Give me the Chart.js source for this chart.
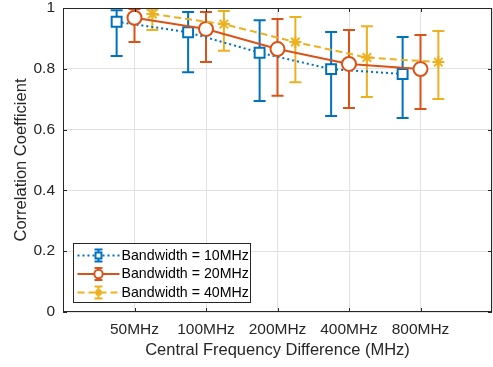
<!DOCTYPE html>
<html lang="en">
<head>
    <meta charset="UTF-8">
    <title>Correlation Coefficient vs Central Frequency Difference</title>
    <script src="https://cdn.jsdelivr.net/npm/chart.js"></script>
    <style>
        body { margin: 0; background: #fff; }
        #wrap { width: 493px; height: 367px; }
    </style>
</head>
<body>
<div id="wrap"><canvas id="corrChart" width="493" height="367"></canvas></div>
<script>
    // x categories (frequency difference)
    const categories = ['50MHz', '100MHz', '200MHz', '400MHz', '800MHz'];
    const yTicks = [0, 0.2, 0.4, 0.6, 0.8, 1];

    // Bandwidth = 10MHz
    const bw10 = [0.955, 0.920, 0.853, 0.799, 0.783];
    const bw10Lower = [0.842, 0.789, 0.694, 0.645, 0.638];
    const bw10Upper = [0.993, 0.987, 0.960, 0.921, 0.905];

    // Bandwidth = 20MHz
    const bw20 = [0.968, 0.931, 0.865, 0.816, 0.799];
    const bw20Lower = [0.888, 0.822, 0.711, 0.671, 0.668];
    const bw20Upper = [0.997, 0.987, 0.964, 0.928, 0.911];

    // Bandwidth = 40MHz
    const bw40 = [0.980, 0.947, 0.888, 0.837, 0.822];
    const bw40Lower = [0.928, 0.859, 0.756, 0.707, 0.701];
    const bw40Upper = [0.995, 0.990, 0.970, 0.940, 0.924];

    const FONT = '"Liberation Sans", Arial, sans-serif';
    const AXIS_COLOR = '#262626';

    function points(values, shift) {
        return values.map((v, i) => ({ x: i + 1 + shift, y: v }));
    }

    // no extra room for edge labels, the layout padding handles it
    function noEdgePadding(scale) {
        scale.paddingTop = 0;
        scale.paddingBottom = 0;
        scale.paddingLeft = 0;
        scale.paddingRight = 0;
    }

    // error bars, drawn under the lines and markers
    const errorBars = {
        id: 'errorBars',
        beforeDatasetsDraw(chart) {
            const { ctx, chartArea: a, scales: { x, y } } = chart;
            ctx.save();
            ctx.beginPath();
            ctx.rect(a.left, a.top, a.width, a.height);
            ctx.clip();
            chart.data.datasets.forEach(ds => {
                ctx.strokeStyle = ds.borderColor;
                ctx.lineWidth = 2;
                ctx.setLineDash([]);
                ds.data.forEach((p, i) => {
                    const px = x.getPixelForValue(p.x);
                    const lo = y.getPixelForValue(ds.lower[i]);
                    const hi = y.getPixelForValue(ds.upper[i]);
                    ctx.beginPath();
                    ctx.moveTo(px, lo); ctx.lineTo(px, hi);
                    ctx.moveTo(px - 6, lo); ctx.lineTo(px + 6, lo);
                    ctx.moveTo(px - 6, hi); ctx.lineTo(px + 6, hi);
                    ctx.stroke();
                });
            });
            ctx.restore();
        }
    };

    // box around the axes with inward tick marks (matlab look)
    const axesBox = {
        id: 'axesBox',
        afterDatasetsDraw(chart) {
            const { ctx, chartArea: a, scales: { x, y } } = chart;
            ctx.save();
            ctx.strokeStyle = AXIS_COLOR;
            ctx.lineWidth = 1;
            ctx.setLineDash([]);
            ctx.strokeRect(a.left + 0.5, a.top + 0.5, a.width - 1, a.height - 1);
            ctx.beginPath();
            categories.forEach((c, i) => {
                const px = Math.round(x.getPixelForValue(i + 1)) + 0.5;
                ctx.moveTo(px, a.bottom); ctx.lineTo(px, a.bottom - 4);
                ctx.moveTo(px, a.top); ctx.lineTo(px, a.top + 4);
            });
            yTicks.forEach(v => {
                const py = Math.round(y.getPixelForValue(v)) + 0.5;
                ctx.moveTo(a.left, py); ctx.lineTo(a.left + 4, py);
                ctx.moveTo(a.right, py); ctx.lineTo(a.right - 4, py);
            });
            ctx.stroke();
            ctx.restore();
        }
    };

    // legend inside the plot, lower left
    const legendBox = {
        id: 'legendBox',
        afterDraw(chart) {
            const { ctx, chartArea: a } = chart;
            const x0 = a.left + 10.5, y0 = a.bottom - 68.5;
            const w = 177, h = 59;
            ctx.save();
            ctx.fillStyle = '#fff';
            ctx.fillRect(x0, y0, w, h);
            ctx.strokeStyle = AXIS_COLOR;
            ctx.lineWidth = 1;
            ctx.strokeRect(x0, y0, w, h);
            chart.data.datasets.forEach((ds, i) => {
                const ry = y0 + 12 + i * 18.5;
                const cx = x0 + 25;
                ctx.strokeStyle = ds.borderColor;
                ctx.lineWidth = 2;
                ctx.setLineDash(ds.borderDash || []);
                ctx.beginPath();
                ctx.moveTo(x0 + 4, ry); ctx.lineTo(x0 + 46, ry);
                ctx.stroke();
                ctx.setLineDash([]);
                ctx.beginPath();
                ctx.moveTo(cx, ry - 6); ctx.lineTo(cx, ry + 6);
                ctx.moveTo(cx - 4, ry - 6); ctx.lineTo(cx + 4, ry - 6);
                ctx.moveTo(cx - 4, ry + 6); ctx.lineTo(cx + 4, ry + 6);
                ctx.stroke();
                ctx.fillStyle = ds.pointBackgroundColor;
                Chart.helpers.drawPoint(ctx, {
                    pointStyle: ds.pointStyle, rotation: 0,
                    radius: ds.pointRadius * 0.6, borderWidth: 2
                }, cx, ry);
                ctx.fillStyle = '#000';
                ctx.font = '14.2px ' + FONT;
                ctx.textBaseline = 'middle';
                ctx.textAlign = 'left';
                ctx.fillText(ds.label, x0 + 48, ry + 0.5);
            });
            ctx.restore();
        }
    };

    const ctx = document.getElementById('corrChart').getContext('2d');
    new Chart(ctx, {
        type: 'line',
        data: {
            datasets: [{
                label: 'Bandwidth = 10MHz',
                data: points(bw10, -0.25),
                lower: bw10Lower, upper: bw10Upper,
                borderColor: '#0072BD',
                borderWidth: 2,
                borderDash: [2, 3],
                pointStyle: 'rect',
                pointRadius: 7,
                pointBorderWidth: 2,
                pointBackgroundColor: '#fff',
                order: 3
            }, {
                label: 'Bandwidth = 20MHz',
                data: points(bw20, 0),
                lower: bw20Lower, upper: bw20Upper,
                borderColor: '#D95319',
                borderWidth: 2,
                pointStyle: 'circle',
                pointRadius: 7,
                pointBorderWidth: 2,
                pointBackgroundColor: '#fff',
                order: 2
            }, {
                label: 'Bandwidth = 40MHz',
                data: points(bw40, 0.25),
                lower: bw40Lower, upper: bw40Upper,
                borderColor: '#EDB120',
                borderWidth: 2,
                borderDash: [7, 4],
                pointStyle: 'star',
                pointRadius: 6,
                pointBorderWidth: 2,
                pointBackgroundColor: '#EDB120',
                order: 1
            }]
        },
        options: {
            responsive: false,
            animation: false,
            layout: { autoPadding: false, padding: { top: 8, right: 1, left: 0, bottom: 0 } },
            plugins: {
                legend: { display: false },
                tooltip: { enabled: false }
            },
            scales: {
                x: {
                    type: 'linear',
                    min: 0,
                    max: 6,
                    afterFit: scale => { scale.height = 55; noEdgePadding(scale); },
                    afterBuildTicks: scale => {
                        scale.ticks = [0, 1, 2, 3, 4, 5, 6].map(v => ({ value: v }));
                    },
                    ticks: {
                        autoSkip: false,
                        maxRotation: 0,
                        padding: 8,
                        color: AXIS_COLOR,
                        font: { family: FONT, size: 15.5 },
                        callback: v => categories[v - 1] || ''
                    },
                    grid: { color: '#e2e2e2', drawTicks: false },
                    border: { display: false },
                    title: {
                        display: true,
                        text: 'Central Frequency Difference (MHz)',
                        color: AXIS_COLOR,
                        font: { family: FONT, size: 16.5 },
                        padding: { top: 0, bottom: 7 }
                    }
                },
                y: {
                    min: 0,
                    max: 1,
                    afterFit: scale => { scale.width = 63; noEdgePadding(scale); },
                    afterBuildTicks: scale => {
                        scale.ticks = yTicks.map(v => ({ value: v }));
                    },
                    ticks: {
                        padding: 8,
                        color: AXIS_COLOR,
                        font: { family: FONT, size: 15.5 },
                        callback: v => (v === 0 || v === 1) ? String(v) : v.toFixed(1)
                    },
                    grid: { color: '#e2e2e2', drawTicks: false },
                    border: { display: false },
                    title: {
                        display: true,
                        text: 'Correlation Coefficient',
                        color: AXIS_COLOR,
                        font: { family: FONT, size: 16.5 },
                        padding: { top: 12, bottom: 0 }
                    }
                }
            }
        },
        plugins: [errorBars, axesBox, legendBox]
    });
</script>
</body>
</html>
